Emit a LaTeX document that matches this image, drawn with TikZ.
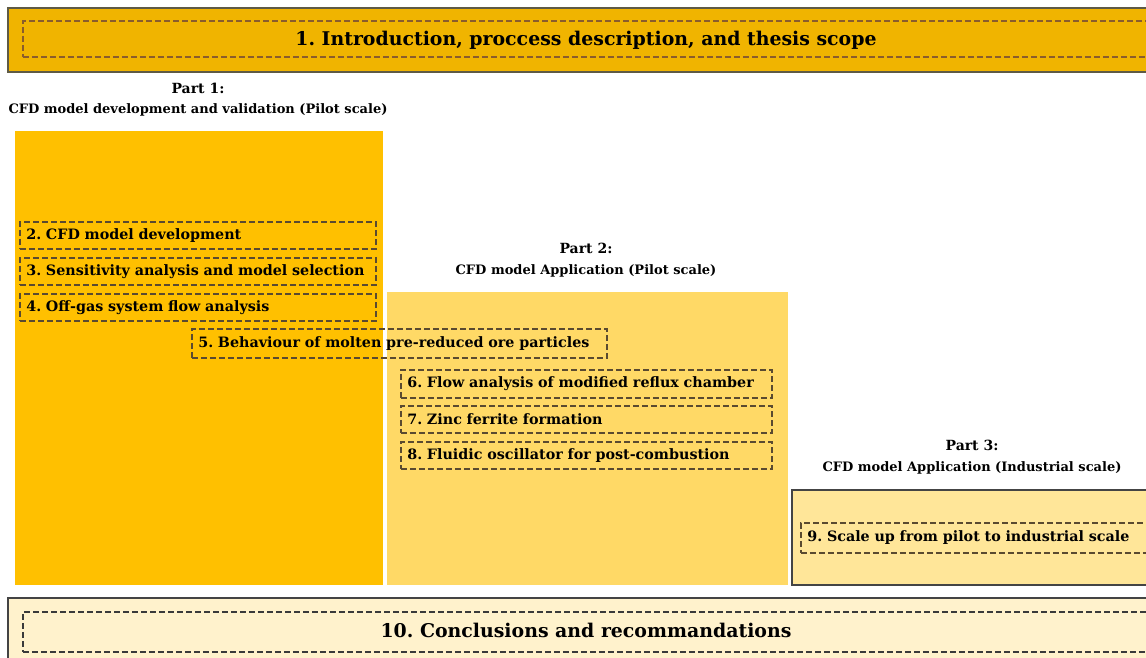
\documentclass[tikz,border=0pt]{standalone}
\usepackage{fontspec}
\setmainfont{DejaVu Serif}
\frenchspacing
\begin{document}
\begin{tikzpicture}[x=1pt,y=-1pt,
  every node/.style={font=\bfseries},
  dashcol/.style={draw=dashbrown, dashed, dash pattern=on 6pt off 3pt, line width=1.6pt},
  bigtxt/.style={font=\bfseries\fontsize{18.9}{22}\selectfont},
  itemtxt/.style={font=\bfseries\fontsize{14.3}{17}\selectfont},
  parttxt/.style={font=\bfseries\fontsize{13}{15}\selectfont},
  partttl/.style={font=\bfseries\fontsize{14}{16}\selectfont},
  itembox/.style={dashcol, draw=itemdash, rectangle, anchor=north west, inner xsep=6.5pt, inner ysep=0pt, align=left, itemtxt},
]
\definecolor{bannerfill}{HTML}{F0B400}
\definecolor{bannerline}{HTML}{5E5A45}
\definecolor{dashbrown}{HTML}{8A5C2C}
\definecolor{itemdash}{HTML}{5A4A30}
\definecolor{darkdash}{HTML}{3A3A3A}
\definecolor{pone}{HTML}{FFC000}
\definecolor{ptwo}{HTML}{FFD966}
\definecolor{pthree}{HTML}{FFE699}
\definecolor{pfour}{HTML}{FFF2CC}
\definecolor{boxline}{HTML}{444444}
\useasboundingbox (0,0) rectangle (1146,657);
% top banner
\path[fill=bannerfill, draw=bannerline, line width=2pt] (8,8) rectangle (1150,72);
\node[dashcol, rectangle, anchor=north west, minimum width=1140, minimum height=36, inner sep=0pt] (b1box) at (22,20) {};
\node[bigtxt] (b1) at (586,40) {1. Introduction, proccess description, and thesis scope};
% part labels
\node[partttl] (p1a) at (198,88) {Part 1:};
\node[parttxt] (p1b) at (198,110) {CFD model development and validation (Pilot scale)};
\node[partttl] (p2a) at (586,248) {Part 2:};
\node[parttxt] (p2b) at (586,271) {CFD model Application (Pilot scale)};
\node[partttl] (p3a) at (972,445) {Part 3:};
\node[parttxt] (p3b) at (972,468) {CFD model Application (Industrial scale)};
% part boxes
\node[fill=pone, anchor=north west, minimum width=368, minimum height=454, inner sep=0pt] (part1) at (15,131) {};
\node[fill=ptwo, anchor=north west, minimum width=401, minimum height=293, inner sep=0pt] (part2) at (387,292) {};
\path[fill=pthree, draw=boxline, line width=1.4pt] (792,490) rectangle (1150,585);
% items
\node[itembox, text width=343, minimum height=27] (b2) at (19,221) {2. CFD model development};
\node[itembox, text width=343, minimum height=27] (b3) at (19,257) {3. Sensitivity analysis and model selection};
\node[itembox, text width=402, minimum height=29] (b5) at (191,328) {5. Behaviour of molten pre-reduced ore particles};
\node[itembox, text width=343, minimum height=27] (b4) at (19,293) {4. Off-gas system flow analysis};
\node[itembox, text width=358, minimum height=28] (b6) at (400,369) {6. Flow analysis of modified reflux chamber};
\node[itembox, text width=358, minimum height=27] (b7) at (400,405) {7. Zinc ferrite formation};
\node[itembox, text width=358, minimum height=27] (b8) at (400,441) {8. Fluidic oscillator for post-combustion};
\node[itembox, text width=359, minimum height=30] (b9) at (800,522) {9. Scale up from pilot to industrial scale};
% bottom
\path[fill=pfour, draw=boxline, line width=2pt] (8,598) rectangle (1150,662);
\node[dashcol, draw=darkdash, rectangle, anchor=north west, minimum width=1140, minimum height=40, inner sep=0pt] (b10box) at (22,611) {};
\node[bigtxt] (b10) at (586,630) {10. Conclusions and recommandations};
\end{tikzpicture}
\end{document}
